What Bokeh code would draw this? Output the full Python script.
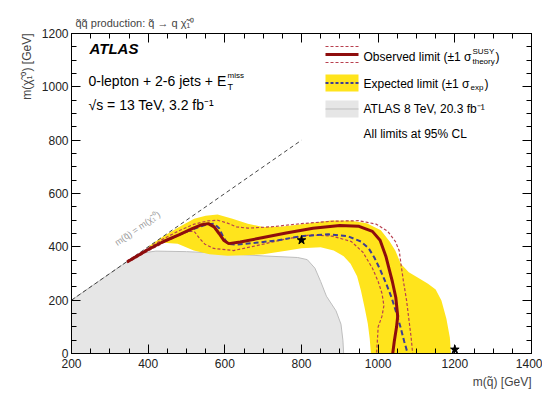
import math
from bokeh.plotting import figure
from bokeh.models import Range1d, LinearAxis, Label, Title, FixedTicker
from bokeh.embed import file_html
from bokeh.resources import INLINE

# ---------------- data (GeV) ----------------
x_ticks = [200, 400, 600, 800, 1000, 1200, 1400]
y_ticks = [0, 200, 400, 600, 800, 1000, 1200]

diag_x = [200, 800]
diag_y = [200, 800]

# ATLAS 8 TeV, 20.3 fb-1 excluded region
run1_x = [200, 375, 420, 500, 600, 700, 790, 815, 835, 850, 865, 890, 903, 908, 910, 200]
run1_y = [200, 375, 384, 382, 375, 366, 360, 352, 320, 270, 215, 160, 110, 50, 0, 0]

# expected +-1 sigma band
band_up_x = [398, 440, 477, 520, 550, 581, 620, 660, 700, 750, 800, 876, 930, 970, 1007, 1030, 1045, 1059, 1080, 1103, 1130, 1150, 1165, 1178, 1187, 1190]
band_up_y = [398, 440, 472, 505, 517, 521, 505, 487, 474, 476, 485, 499, 498, 488, 462, 420, 385, 337, 305, 285, 262, 240, 199, 130, 60, 0]
band_dn_x = [400, 440, 477, 519, 560, 607, 650, 700, 760, 800, 850, 884, 910, 928, 945, 955, 965, 973, 978, 981]
band_dn_y = [398, 415, 412, 386, 372, 367, 368, 372, 385, 395, 398, 386, 365, 337, 290, 236, 170, 112, 55, 0]

# expected limit
exp_x = [350, 400, 440, 480, 520, 550, 572, 585, 595, 607, 630, 680, 740, 800, 870, 920, 955, 975, 990, 1005, 1020, 1035, 1048, 1058, 1068, 1077]
exp_y = [348, 390, 420, 445, 468, 483, 487, 470, 440, 412, 408, 415, 425, 440, 447, 440, 420, 395, 360, 315, 265, 210, 150, 100, 45, 0]

# observed limit
obs_x = [345, 400, 440, 480, 515, 540, 557, 572, 585, 597, 610, 640, 700, 760, 830, 900, 950, 985, 1005, 1020, 1028, 1037, 1046, 1051, 1048, 1042, 1038]
obs_y = [343, 390, 420, 445, 468, 483, 487, 475, 450, 425, 412, 418, 435, 452, 470, 480, 477, 458, 425, 365, 320, 270, 210, 140, 100, 45, 0]

# observed +1 sigma theory
obs_up_x = [345, 400, 440, 480, 520, 555, 580, 605, 630, 660, 720, 800, 880, 950, 995, 1025, 1045, 1055, 1060, 1066, 1074, 1080, 1086, 1090]
obs_up_y = [348, 395, 430, 460, 485, 497, 500, 490, 475, 470, 475, 487, 496, 498, 485, 458, 420, 385, 330, 270, 200, 130, 60, 0]

# observed -1 sigma theory
obs_dn_x = [345, 400, 440, 480, 505, 520, 535, 548, 571, 623, 700, 760, 824, 880, 930, 960, 985, 1000, 1010, 1015, 1010, 1000, 998, 996]
obs_dn_y = [340, 385, 415, 443, 458, 458, 430, 410, 394, 386, 410, 430, 445, 440, 420, 380, 320, 270, 225, 180, 140, 100, 50, 0]

# benchmark points
star_x = [800, 1200]
star_y = [425, 15]

# ---------------- styling ----------------
FONT = "Liberation Sans"
YELLOW = "#ffe41c"
OBS = "#8e0d0d"
SIG = "#b8404f"
EXPC = "#3d3d94"
GRAY = "#e6e6e6"

p = figure(width=542, height=394, x_range=Range1d(200, 1400), y_range=Range1d(0, 1200),
           output_backend="svg", toolbar_location=None,
           min_border_left=71, min_border_right=11, min_border_top=33, min_border_bottom=41)
p.grid.visible = False
p.outline_line_color = "black"
p.outline_line_width = 1
p.background_fill_color = "white"


def style_axis(ax, labels=True):
    ax.major_tick_in = 9
    ax.major_tick_out = 0
    ax.minor_tick_in = 5
    ax.minor_tick_out = 0
    ax.axis_line_color = "black"
    ax.major_tick_line_color = "black"
    ax.minor_tick_line_color = "black"
    if labels:
        ax.major_label_text_font = FONT
        ax.major_label_text_font_size = "12px"
        ax.major_label_text_color = "#222222"
    else:
        ax.major_label_text_font_size = "0px"
        ax.major_label_text_color = None
        ax.major_label_standoff = 0


xt = FixedTicker(ticks=x_ticks, minor_ticks=list(range(200, 1401, 50)))
yt = FixedTicker(ticks=y_ticks, minor_ticks=list(range(0, 1201, 50)))
p.xaxis[0].ticker = xt
p.yaxis[0].ticker = yt
style_axis(p.xaxis[0])
style_axis(p.yaxis[0])
p.xaxis[0].major_label_standoff = 5
p.yaxis[0].major_label_standoff = 3

ra = LinearAxis(ticker=FixedTicker(ticks=y_ticks, minor_ticks=list(range(0, 1201, 50))))
style_axis(ra, labels=False)
p.add_layout(ra, "right")
ta = LinearAxis(ticker=FixedTicker(ticks=x_ticks, minor_ticks=list(range(200, 1401, 50))))
style_axis(ta, labels=False)
p.add_layout(ta, "above")

p.add_layout(Title(text="q̃q̃ production: q̃ → q χ̃₁⁰", align="left", text_font=FONT,
                   text_font_size="11px", text_font_style="normal", offset=4), "above")
p.add_layout(Title(text="m(q̃) [GeV]", align="right", text_font=FONT, standoff=4,
                   text_font_size="12px", text_font_style="normal"), "below")
p.add_layout(Title(text="m(χ̃₁⁰) [GeV]", align="right", text_font=FONT,
                   text_font_size="12px", text_font_style="normal"), "left")

# ---------------- data glyphs ----------------
p.patch(run1_x, run1_y, fill_color=GRAY, line_color="#bdbdbd", line_width=1)
p.patch(band_up_x + band_dn_x[::-1], band_up_y + band_dn_y[::-1], fill_color=YELLOW, line_color=None)
p.line(diag_x, diag_y, line_color="#444444", line_width=1, line_dash="4 3")
p.line(obs_up_x, obs_up_y, line_color=SIG, line_width=1.2, line_dash="3 2")
p.line(obs_dn_x, obs_dn_y, line_color=SIG, line_width=1.2, line_dash="3 2")
p.line(exp_x, exp_y, line_color=EXPC, line_width=2, line_dash="5 3")
p.line(obs_x, obs_y, line_color=OBS, line_width=3)
p.scatter(star_x, star_y, marker="star", size=9, fill_color="black", line_color="black")


# ---------------- layout helpers (pixel -> data) ----------------
def X(px):
    return 200 + (px - 71) * 1200 / 460


def Y(py):
    return (353 - py) * 1200 / 320


def lab(x, y, text, size="12px", style="normal", color="black", align="left", angle=0.0):
    p.add_layout(Label(x=x, y=y, text=text, text_font=FONT, text_font_size=size,
                       text_font_style=style, text_color=color, text_align=align,
                       text_baseline="middle", angle=angle))


# top-left texts
lab(X(89), Y(48), "ATLAS", size="15px", style="bold italic")
lab(X(88), Y(80), "0-lepton + 2-6 jets + E", size="14px")
lab(X(227), Y(75), "miss", size="8px")
lab(X(227), Y(86), "T", size="9px")
lab(X(88), Y(104), "√s = 13 TeV, 3.2 fb⁻¹", size="14px")

# diagonal label (rotated along the diagonal on screen)
lab(X(137), Y(228), "m(q̃) = m(χ̃₁⁰)", size="9px", color="#9a9a9a", align="center",
    angle=math.atan(460 / 320 * 320 / 460 * (320 / 1200) / (460 / 1200)))

# legend swatches
sx0, sx1 = X(325), X(358)
p.line([sx0, sx1], [Y(46), Y(46)], line_color=SIG, line_width=1.2, line_dash="3 2")
p.line([sx0, sx1], [Y(62), Y(62)], line_color=SIG, line_width=1.2, line_dash="3 2")
p.line([sx0, sx1], [Y(54), Y(54)], line_color=OBS, line_width=3)
p.quad(left=sx0, right=sx1, bottom=Y(91), top=Y(74), fill_color=YELLOW, line_color=None)
p.line([sx0, sx1], [Y(82.5), Y(82.5)], line_color=EXPC, line_width=2, line_dash="3 2")
p.quad(left=sx0, right=sx1, bottom=Y(117), top=Y(100), fill_color=GRAY, line_color=None)
p.line([sx0, sx1], [Y(108.5), Y(108.5)], line_color="#bdbdbd", line_width=1)

lab(X(363), Y(56), "Observed limit (±1 σ")
lab(X(472), Y(51), "SUSY", size="8px")
lab(X(472), Y(61), "theory", size="8px")
lab(X(495), Y(56), ")")
lab(X(363), Y(83), "Expected limit (±1 σ")
lab(X(470), Y(87), "exp", size="8px")
lab(X(484), Y(83), ")")
lab(X(363), Y(108), "ATLAS 8 TeV, 20.3 fb⁻¹")
lab(X(363), Y(133), "All limits at 95% CL")

open("out.html", "w").write(file_html(p, INLINE))
